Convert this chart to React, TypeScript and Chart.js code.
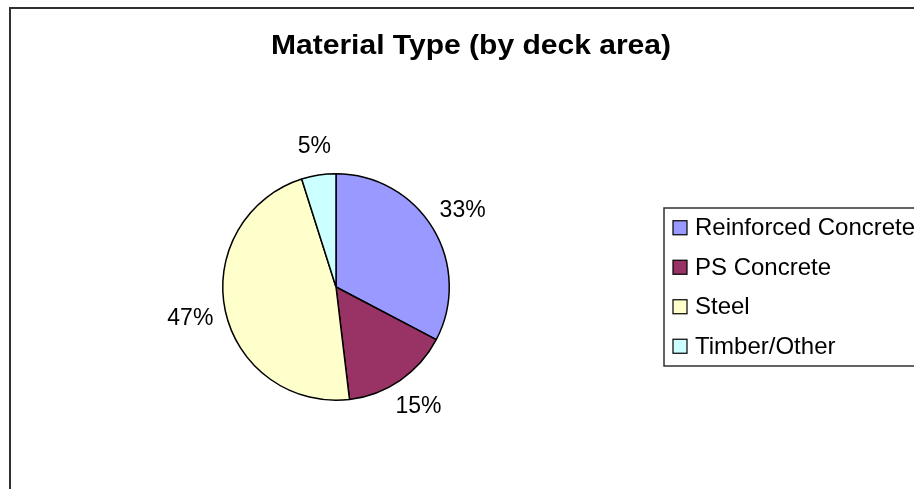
import React, { useEffect, useRef } from "react";
import { Chart, registerables } from "chart.js";

Chart.register(...registerables);

const TITLE = "Material Type (by deck area)";
const CATEGORIES = ["Reinforced Concrete", "PS Concrete", "Steel", "Timber/Other"];
const VALUES = [32.7, 15.4, 47.0, 4.9];
const COLORS = ["#9999FF", "#993366", "#FFFFCC", "#CCFFFF"];

const FONT = '"Liberation Sans", Arial, Helvetica, sans-serif';

const framePlugin = {
  id: "frame",
  beforeDraw(chart: any) {
    const ctx = chart.ctx;
    ctx.save();
    ctx.fillStyle = "#ffffff";
    ctx.fillRect(0, 0, chart.width, chart.height);
    ctx.strokeStyle = "#303030";
    ctx.lineWidth = 2;
    ctx.strokeRect(10, 8, chart.width + 40, chart.height + 40);
    ctx.restore();
  },
};

const titlePlugin = {
  id: "excelTitle",
  afterDraw(chart: any) {
    const ctx = chart.ctx;
    ctx.save();
    ctx.font = `bold 27px ${FONT}`;
    ctx.fillStyle = "#000000";
    ctx.textAlign = "center";
    ctx.textBaseline = "alphabetic";
    const w = ctx.measureText(TITLE).width;
    const sx = 400 / w;
    ctx.translate(471, 54);
    ctx.scale(sx, 1);
    ctx.fillText(TITLE, 0, 0);
    ctx.restore();
  },
};

const legendPlugin = {
  id: "excelLegend",
  afterDraw(chart: any) {
    const ctx = chart.ctx;
    const labels: string[] = chart.data.labels;
    const colors: string[] = chart.data.datasets[0].backgroundColor;
    const left = 664;
    const top = 208;
    const rowH = 39.5;
    const bottom = top + rowH * labels.length;
    ctx.save();
    ctx.strokeStyle = "#303030";
    ctx.lineWidth = 1.5;
    ctx.strokeRect(left, top, chart.width, bottom - top);
    ctx.font = `24px ${FONT}`;
    ctx.textBaseline = "middle";
    ctx.textAlign = "left";
    labels.forEach((lab, i) => {
      const cy = top + rowH * (i + 0.5);
      ctx.fillStyle = colors[i];
      ctx.fillRect(673, cy - 7, 14, 14);
      ctx.strokeStyle = "#000000";
      ctx.lineWidth = 1.2;
      ctx.strokeRect(673, cy - 7, 14, 14);
      ctx.fillStyle = "#000000";
      ctx.fillText(lab, 695, cy + 1);
    });
    ctx.restore();
  },
};

const pctLabelPlugin = {
  id: "pctLabels",
  afterDatasetsDraw(chart: any) {
    const ctx = chart.ctx;
    const meta = chart.getDatasetMeta(0);
    const data: number[] = chart.data.datasets[0].data;
    const total = data.reduce((a, b) => a + b, 0);
    ctx.save();
    ctx.font = `23px ${FONT}`;
    ctx.fillStyle = "#000000";
    ctx.textAlign = "center";
    ctx.textBaseline = "middle";
    meta.data.forEach((arc: any, i: number) => {
      const p = arc.getProps(["x", "y", "startAngle", "endAngle", "outerRadius"], true);
      const mid = (p.startAngle + p.endAngle) / 2;
      const r = p.outerRadius + 27 + 9 * Math.abs(Math.cos(mid));
      const lx = p.x + Math.cos(mid) * r;
      const ly = p.y + Math.sin(mid) * r;
      ctx.fillText(Math.round((data[i] / total) * 100) + "%", lx, ly);
    });
    ctx.restore();
  },
};

export default function App() {
  const ref = useRef<HTMLCanvasElement | null>(null);
  useEffect(() => {
    if (!ref.current) return;
    const chart = new Chart(ref.current, {
      type: "pie",
      data: {
        labels: CATEGORIES,
        datasets: [
          {
            data: VALUES,
            backgroundColor: COLORS,
            borderColor: "#000000",
            borderWidth: 1.5,
          },
        ],
      },
      options: {
        responsive: false,
        animation: false,
        devicePixelRatio: 1,
        layout: { padding: { left: 222, right: 464, top: 173, bottom: 88 } },
        plugins: {
          legend: { display: false },
          title: { display: false },
          tooltip: { enabled: false },
        },
      },
      plugins: [framePlugin, titlePlugin, legendPlugin, pctLabelPlugin],
    });
    return () => chart.destroy();
  }, []);
  return (
    <div style={{ position: "absolute", left: 0, top: 0, width: 914, height: 489, overflow: "hidden", background: "#fff" }}>
      <canvas ref={ref} width={914} height={489} style={{ display: "block", width: 914, height: 489 }} />
    </div>
  );
}
